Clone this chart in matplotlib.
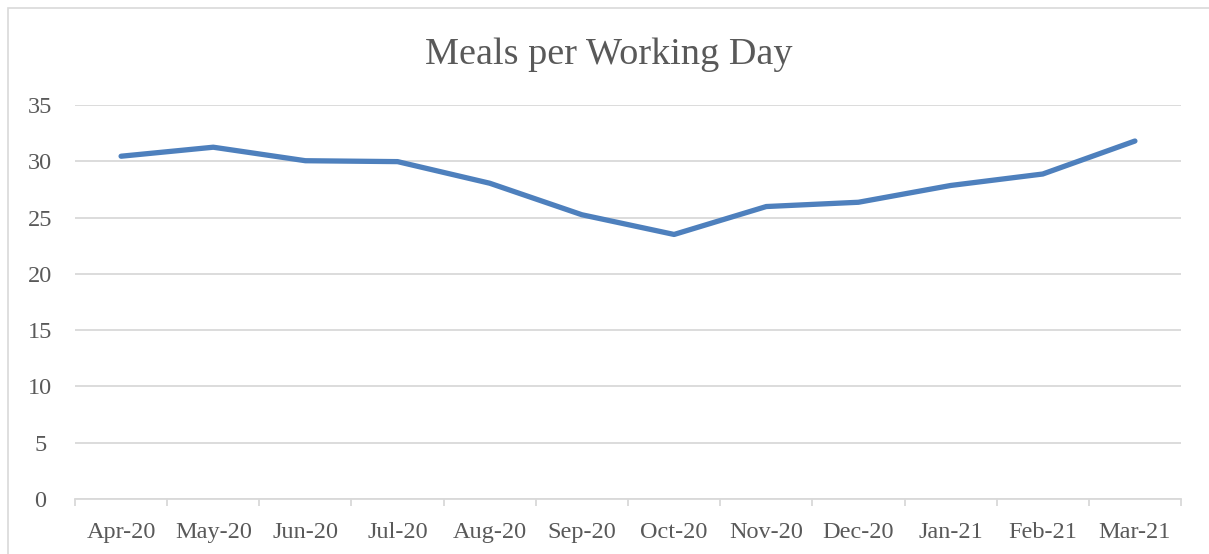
import matplotlib.pyplot as plt
from matplotlib.patches import Rectangle

months = ["Apr-20", "May-20", "Jun-20", "Jul-20", "Aug-20", "Sep-20",
          "Oct-20", "Nov-20", "Dec-20", "Jan-21", "Feb-21", "Mar-21"]
meals = [30.45, 31.25, 30.05, 29.97, 28.05, 25.25,
         23.5, 25.98, 26.36, 27.85, 28.87, 31.8]
y_ticks = [0, 5, 10, 15, 20, 25, 30, 35]

W, H = 1209, 554
text_color = "#595959"
grid_color = "#d9d9d9"

plt.rcParams["font.family"] = ["Liberation Serif", "DejaVu Serif"]

fig = plt.figure(figsize=(W / 100, H / 100), dpi=100)
fig.patches.append(Rectangle((8 / W, -0.1), 1.2, 1.1 - 8 / H,
                             transform=fig.transFigure, fill=False,
                             edgecolor=grid_color, linewidth=1.2))

ax = fig.add_axes([75 / W, 55 / H, (1181 - 75) / W, (499 - 105) / H])
x = list(range(len(months)))
ax.plot(x, meals, color="#4e80bd", linewidth=3.8, solid_capstyle="round",
        solid_joinstyle="round", zorder=3)

ax.set_xlim(-0.5, len(months) - 0.5)
ax.set_ylim(0, 35)
ax.set_yticks(y_ticks)
ax.set_yticklabels([str(v) for v in y_ticks], ha="center")
ax.yaxis.grid(True, color=grid_color, linewidth=1.3)
ax.set_axisbelow(True)

ax.set_xticks(x)
ax.set_xticklabels(months)
ax.set_xticks([i - 0.5 for i in range(len(months) + 1)], minor=True)
ax.tick_params(axis="x", which="major", length=0, pad=16.5,
               labelsize=17.5, labelcolor=text_color)
ax.tick_params(axis="x", which="minor", length=5, width=1.3, color=grid_color)
ax.tick_params(axis="y", length=0, pad=25, labelsize=17.5, labelcolor=text_color)

for side in ["top", "right", "left"]:
    ax.spines[side].set_visible(False)
ax.spines["bottom"].set_color(grid_color)
ax.spines["bottom"].set_linewidth(1.3)

fig.text(609 / W, 1 - 55 / H, "Meals per Working Day", ha="center", va="center",
         fontsize=27.5, color=text_color)

fig.savefig("out.png", dpi=100)
